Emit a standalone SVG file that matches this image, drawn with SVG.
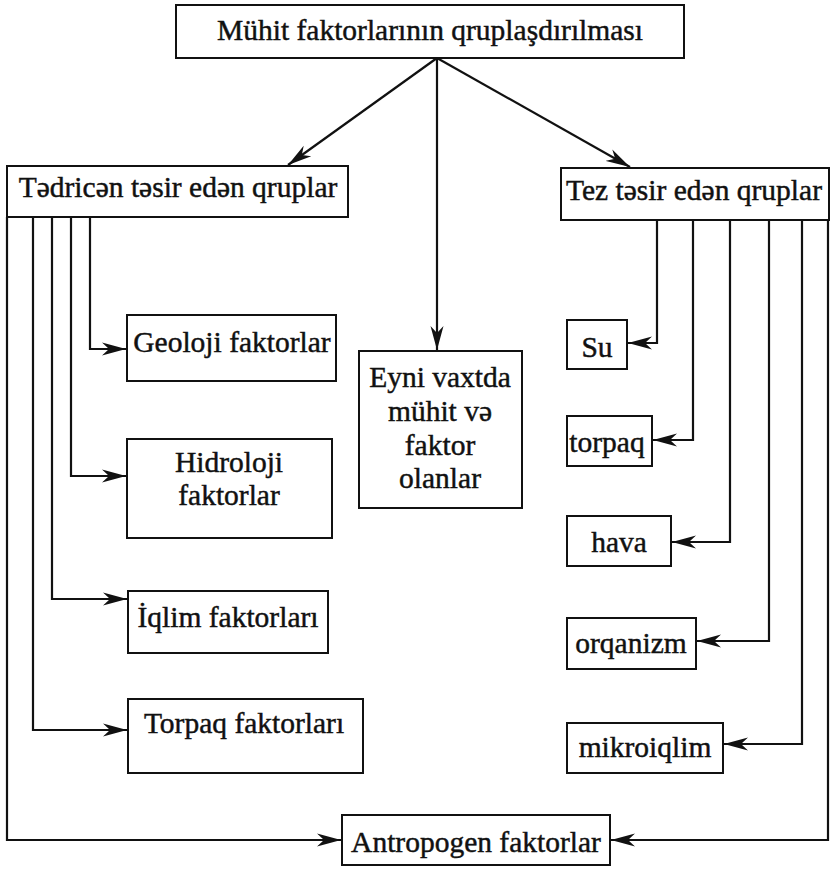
<svg xmlns="http://www.w3.org/2000/svg" width="835" height="870" viewBox="0 0 835 870">
  <style>
    .box { fill: #ffffff; stroke: #111111; stroke-width: 2; }
    .lbl { font-family: "Liberation Serif", "Times New Roman", serif; font-size: 29.5px; fill: #111111; stroke: #111111; stroke-width: 0.45; text-anchor: middle; }
    .wire { fill: none; stroke: #111111; stroke-width: 2.2; }
    .arr { marker-end: url(#head); }
  </style>
  <defs>
    <marker id="head" markerUnits="userSpaceOnUse" viewBox="-24 -8 26 16" refX="0" refY="0" markerWidth="26" markerHeight="16" orient="auto">
      <path d="M0,0 L-24,-6.5 L-17,0 L-24,6.5 Z" fill="#111111"/>
    </marker>
  </defs>

  <rect width="835" height="870" fill="#ffffff"/>

  <!-- connectors -->
  <g id="connectors">
    <!-- root fan-out -->
    <path class="wire arr" d="M437,58 L288,165"/>
    <path class="wire arr" d="M437,58 L437,350"/>
    <path class="wire arr" d="M437,58 L630,167"/>

    <!-- slow-acting groups -->
    <path class="wire arr" d="M90,217 V349 H126"/>
    <path class="wire arr" d="M71,217 V476 H126"/>
    <path class="wire arr" d="M52,217 V599 H127"/>
    <path class="wire arr" d="M33,217 V730 H127"/>
    <path class="wire arr" d="M7,217 V840 H341"/>

    <!-- fast-acting groups -->
    <path class="wire arr" d="M657,220 V343 H628"/>
    <path class="wire arr" d="M693,220 V440 H653"/>
    <path class="wire arr" d="M730,220 V542 H672"/>
    <path class="wire arr" d="M769,220 V641 H697"/>
    <path class="wire arr" d="M802,220 V744 H724"/>
    <path class="wire arr" d="M828,220 V840 H611"/>
  </g>

  <!-- root -->
  <g id="root">
    <rect class="box" x="176" y="5" width="508" height="53"/>
    <text class="lbl" x="430" y="40">Mühit faktorlarının qruplaşdırılması</text>
  </g>

  <!-- group boxes -->
  <g id="slow">
    <rect class="box" x="7" y="166" width="341" height="51"/>
    <text class="lbl" x="178" y="197">Tədricən təsir edən qruplar</text>
  </g>
  <g id="fast">
    <rect class="box" x="561" y="168" width="268" height="52"/>
    <text class="lbl" x="694" y="200">Tez təsir edən qruplar</text>
  </g>
  <g id="both">
    <rect class="box" x="359" y="351" width="163" height="157"/>
    <text class="lbl" x="440" y="387">Eyni vaxtda</text>
    <text class="lbl" x="440" y="421">mühit və</text>
    <text class="lbl" x="440" y="455">faktor</text>
    <text class="lbl" x="440" y="488">olanlar</text>
  </g>

  <!-- slow-acting factors -->
  <g id="geoloji">
    <rect class="box" x="127" y="315" width="209" height="66"/>
    <text class="lbl" x="232" y="352">Geoloji faktorlar</text>
  </g>
  <g id="hidroloji">
    <rect class="box" x="127" y="439" width="205" height="99"/>
    <text class="lbl" x="229" y="472">Hidroloji</text>
    <text class="lbl" x="229" y="505">faktorlar</text>
  </g>
  <g id="iqlim">
    <rect class="box" x="128" y="591" width="200" height="62"/>
    <text class="lbl" x="228" y="627">İqlim faktorları</text>
  </g>
  <g id="torpaq-f">
    <rect class="box" x="128" y="699" width="235" height="74"/>
    <text class="lbl" x="244" y="733">Torpaq faktorları</text>
  </g>

  <!-- fast-acting factors -->
  <g id="su">
    <rect class="box" x="567" y="320" width="60" height="49"/>
    <text class="lbl" x="597" y="357">Su</text>
  </g>
  <g id="torpaq">
    <rect class="box" x="567" y="416" width="85" height="50"/>
    <text class="lbl" x="607" y="452">torpaq</text>
  </g>
  <g id="hava">
    <rect class="box" x="567" y="516" width="104" height="50"/>
    <text class="lbl" x="619" y="552">hava</text>
  </g>
  <g id="orqanizm">
    <rect class="box" x="567" y="618" width="129" height="51"/>
    <text class="lbl" x="631" y="653">orqanizm</text>
  </g>
  <g id="mikroiqlim">
    <rect class="box" x="567" y="723" width="156" height="50"/>
    <text class="lbl" x="645" y="757">mikroiqlim</text>
  </g>

  <!-- anthropogenic -->
  <g id="antropogen">
    <rect class="box" x="342" y="815" width="268" height="50"/>
    <text class="lbl" x="476" y="852">Antropogen faktorlar</text>
  </g>
</svg>
